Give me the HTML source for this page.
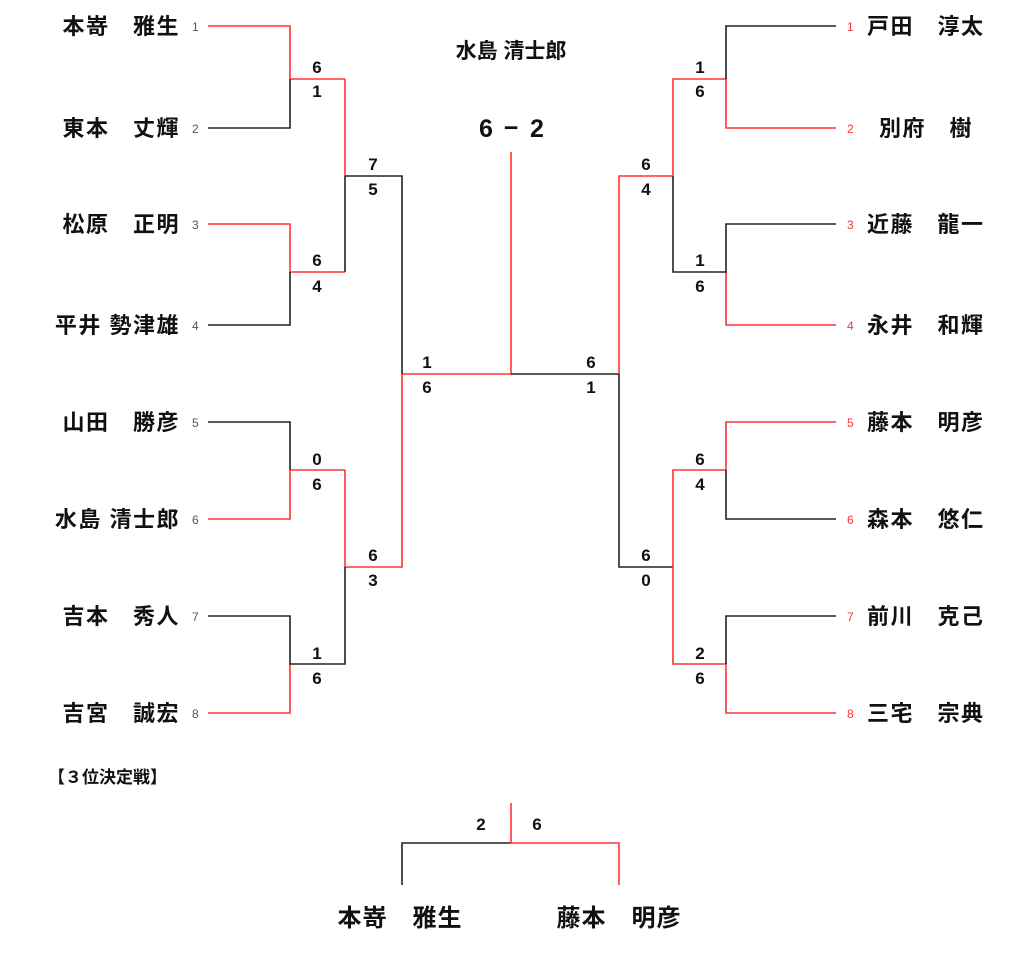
<!DOCTYPE html>
<html><head><meta charset="utf-8"><style>
html,body{margin:0;padding:0;background:#fff;}
svg{display:block;font-family:"Liberation Sans","Noto Sans CJK JP",sans-serif;}
.n{font-size:22px;font-weight:bold;fill:#111;letter-spacing:1.5px;}
.s{font-size:17px;font-weight:bold;fill:#111;text-anchor:middle;}
.k{font-size:12px;fill:#555;}
.kr{font-size:12px;fill:#f33;}
</style></head><body>
<svg width="1024" height="974" viewBox="0 0 1024 974">
<g fill="none" stroke-width="1.6">
<g stroke="#f33">
<path d="M208 26H290V79H345"/>
<path d="M208 224H290V272H345"/>
<path d="M290 470V519H208"/>
<path d="M290 470H345"/>
<path d="M290 664V713H208"/>
<path d="M345 79V176"/>
<path d="M345 470V567H402V374H511V152"/>
</g>
<g stroke="#222">
<path d="M208 128H290V79"/>
<path d="M208 325H290V272"/>
<path d="M208 422H290V470"/>
<path d="M208 616H290V664H345V567"/>
<path d="M345 176V272"/>
<path d="M345 176H402V374"/>
<path d="M511 374H619V567H673"/>
</g>
<g stroke="#f33">
<path d="M836 128H726V79H673V176H619V374"/>
<path d="M836 325H726V272"/>
<path d="M836 422H726V470H673V567"/>
<path d="M673 567V664H726V713H836"/>
</g>
<g stroke="#222">
<path d="M836 26H726V79"/>
<path d="M836 224H726V272H673V176"/>
<path d="M726 470V519H836"/>
<path d="M836 616H726V664"/>
</g>
<path stroke="#222" d="M402 885V843H511"/>
<path stroke="#f33" d="M511 803V843H619V885"/>
</g>
<g class="n" text-anchor="end">
<text x="180" y="34">本嵜　雅生</text>
<text x="180" y="136">東本　丈輝</text>
<text x="180" y="232">松原　正明</text>
<text x="180" y="333">平井 勢津雄</text>
<text x="180" y="430">山田　勝彦</text>
<text x="180" y="527">水島 清士郎</text>
<text x="180" y="624">吉本　秀人</text>
<text x="180" y="721">吉宮　誠宏</text>
</g>
<g class="k">
<text x="192" y="31">1</text><text x="192" y="133">2</text><text x="192" y="229">3</text><text x="192" y="330">4</text>
<text x="192" y="427">5</text><text x="192" y="524">6</text><text x="192" y="621">7</text><text x="192" y="718">8</text>
</g>
<g class="n">
<text x="867" y="34">戸田　淳太</text>
<text x="879" y="136">別府　樹</text>
<text x="867" y="232">近藤　龍一</text>
<text x="867" y="333">永井　和輝</text>
<text x="867" y="430">藤本　明彦</text>
<text x="867" y="527">森本　悠仁</text>
<text x="867" y="624">前川　克己</text>
<text x="867" y="721">三宅　宗典</text>
</g>
<g class="kr">
<text x="847" y="31">1</text><text x="847" y="133">2</text><text x="847" y="229">3</text><text x="847" y="330">4</text>
<text x="847" y="427">5</text><text x="847" y="524">6</text><text x="847" y="621">7</text><text x="847" y="718">8</text>
</g>
<g class="s">
<text x="317" y="73">6</text><text x="317" y="97">1</text>
<text x="317" y="266">6</text><text x="317" y="292">4</text>
<text x="317" y="465">0</text><text x="317" y="490">6</text>
<text x="317" y="659">1</text><text x="317" y="684">6</text>
<text x="373" y="170">7</text><text x="373" y="195">5</text>
<text x="373" y="561">6</text><text x="373" y="586">3</text>
<text x="427" y="368">1</text><text x="427" y="393">6</text>
<text x="700" y="73">1</text><text x="700" y="97">6</text>
<text x="700" y="266">1</text><text x="700" y="292">6</text>
<text x="700" y="465">6</text><text x="700" y="490">4</text>
<text x="700" y="659">2</text><text x="700" y="684">6</text>
<text x="646" y="170">6</text><text x="646" y="195">4</text>
<text x="646" y="561">6</text><text x="646" y="586">0</text>
<text x="591" y="368">6</text><text x="591" y="393">1</text>
</g>
<text class="n" x="511" y="58" text-anchor="middle" style="letter-spacing:0;font-size:21px">水島 清士郎</text>
<g font-size="25" font-weight="bold" fill="#111" text-anchor="middle">
<text x="486" y="137">6</text><text x="511" y="136">−</text><text x="537" y="137">2</text>
</g>
<text class="n" x="48" y="783" style="letter-spacing:0;font-size:17px">【３位決定戦】</text>
<text x="481" y="830" class="s" font-size="19">2</text>
<text x="537" y="830" class="s" font-size="19">6</text>
<text x="400" y="926" text-anchor="middle" font-size="24" font-weight="bold" fill="#111" letter-spacing="1">本嵜　雅生</text>
<text x="619" y="926" text-anchor="middle" font-size="24" font-weight="bold" fill="#111" letter-spacing="1">藤本　明彦</text>
</svg>
</body></html>
